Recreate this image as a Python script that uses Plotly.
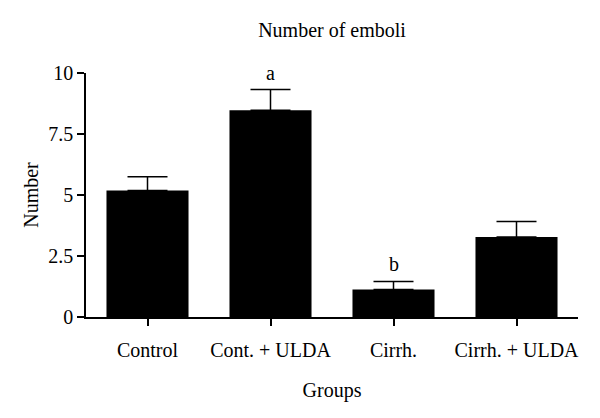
import plotly.graph_objects as go

groups = ["Control", "Cont. + ULDA", "Cirrh.", "Cirrh. + ULDA"]
means = [5.18, 8.47, 1.13, 3.28]
sem = [0.57, 0.85, 0.33, 0.63]
marks = ["", "a", "b", ""]
y_ticks = [0, 2.5, 5, 7.5, 10]
y_labels = ["0", "2.5", "5", "7.5", "10"]

font = "Liberation Serif"

fig = go.Figure()
fig.add_trace(go.Bar(
    x=groups, y=means,
    marker=dict(color="black", line=dict(width=0)),
    width=0.667,
    error_y=dict(type="data", array=sem, arrayminus=[0] * len(sem), symmetric=False,
                 color="black", thickness=1.5, width=20),
    cliponaxis=False,
))

# significance letters above the error bars
for g, m, s, t in zip(groups, means, sem, marks):
    if t:
        fig.add_annotation(x=g, y=m + s, text=t, showarrow=False,
                           yanchor="bottom", yshift=4,
                           font=dict(family=font, size=20, color="black"))

# page body adds 8px margin, so margins are offset to keep the plot area in place
fig.update_layout(
    width=600, height=418,
    margin=dict(l=78, r=30, t=65, b=109),
    plot_bgcolor="white", paper_bgcolor="white",
    showlegend=False,
    font=dict(family=font, size=20, color="black"),
    title=dict(text="Number of emboli", x=0.54, xanchor="center", y=0.947, yanchor="middle",
               font=dict(family=font, size=20, color="black")),
)
fig.update_xaxes(
    range=[-0.5, 3.5], showline=True, linecolor="black", linewidth=1.5,
    ticks="outside", ticklen=7, tickwidth=1.5, tickcolor="black",
    ticklabelstandoff=7,
    title=dict(text="Groups", standoff=23, font=dict(family=font, size=20)),
    tickfont=dict(family=font, size=20),
)
fig.update_yaxes(
    range=[0, 10], showline=True, linecolor="black", linewidth=1.5,
    showgrid=False, zeroline=False,
    ticks="outside", ticklen=7, tickwidth=1.5, tickcolor="black",
    tickvals=y_ticks, ticktext=y_labels,
    title=dict(text="Number", standoff=4, font=dict(family=font, size=20)),
    tickfont=dict(family=font, size=20),
)

fig.write_html("out.html")
